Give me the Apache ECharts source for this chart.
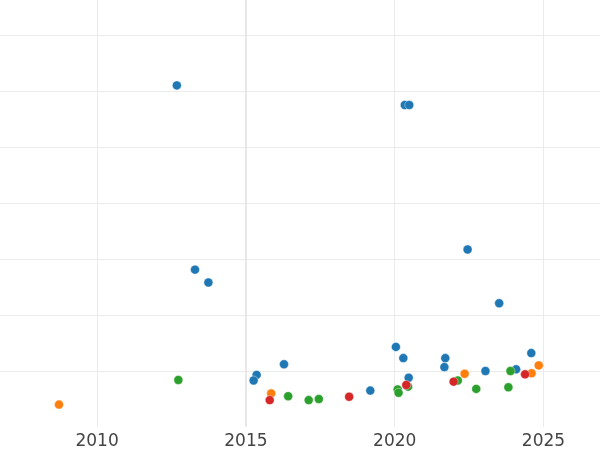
<!DOCTYPE html>
<html>
<head>
<meta charset="utf-8">
<script src="https://cdn.jsdelivr.net/npm/echarts@6/dist/echarts.min.js"></script>
<style>html,body{margin:0;padding:0;background:#fff}#c{width:600px;height:450px}</style>
</head>
<body>
<div id="c"></div>
<script>
// [year, value]
var blueData = [[2012.68,6.10],[2020.34,5.75],[2020.49,5.75],[2013.29,2.81],[2013.74,2.58],[2022.45,3.17],[2023.51,2.21],[2020.04,1.43],[2020.29,1.23],[2020.47,0.88],[2019.18,0.65],[2021.70,1.23],[2021.67,1.07],[2023.05,1.00],[2024.08,1.03],[2024.59,1.32],[2016.28,1.12],[2015.36,0.93],[2015.26,0.83]];
var orangeData = [[2008.72,0.40],[2015.85,0.60],[2022.35,0.95],[2024.60,0.96],[2024.84,1.10]];
var greenData = [[2012.73,0.84],[2016.42,0.55],[2017.11,0.48],[2017.45,0.50],[2020.10,0.67],[2020.13,0.61],[2020.45,0.72],[2022.12,0.83],[2022.74,0.68],[2023.82,0.71],[2023.89,1.00]];
var redData = [[2015.80,0.48],[2018.47,0.54],[2020.39,0.75],[2021.98,0.81],[2024.38,0.94]];
var colors = ['#1f77b4','#ff7f0e','#2ca02c','#d62728'];
var highlightYear = 2015;

var chart = echarts.init(document.getElementById('c'), null, {renderer:'canvas'});
function s(data, color, z){
  return {type:'scatter', data:data, symbolSize:9, z:z,
    itemStyle:{color:color, opacity:1, borderColor:'#ffffff', borderWidth:0.4},
    emphasis:{disabled:true}, silent:true, clip:false, animation:false};
}
var series = [s(blueData,colors[0],2), s(orangeData,colors[1],3), s(greenData,colors[2],4), s(redData,colors[3],5)];
series[0].markLine = {silent:true, symbol:'none', label:{show:false}, animation:false,
  lineStyle:{color:'#e8e8e8', width:2, type:'solid'}, data:[{xAxis:highlightYear}]};
series[0].markLine.z = 1;
chart.setOption({
  animation:false,
  backgroundColor:'#ffffff',
  grid:{left:-51.7, right:-92.3, top:-21, bottom:23, containLabel:false, outerBoundsMode:'none'},
  xAxis:{type:'value', min:2005, max:2030, interval:5,
    axisLine:{show:false}, axisTick:{show:false},
    axisLabel:{color:'#444', fontSize:17, fontFamily:'DejaVu Sans', margin:6,
      formatter:function(v){return String(v);}},
    splitLine:{show:true, lineStyle:{color:'#ebebeb', width:1}}},
  yAxis:{type:'value', min:0, max:8, interval:1,
    axisLine:{show:false}, axisTick:{show:false}, axisLabel:{show:false},
    splitLine:{show:true, showMinLine:false, lineStyle:{color:'#ebebeb', width:1}}},
  series:series
});
</script>
</body>
</html>
